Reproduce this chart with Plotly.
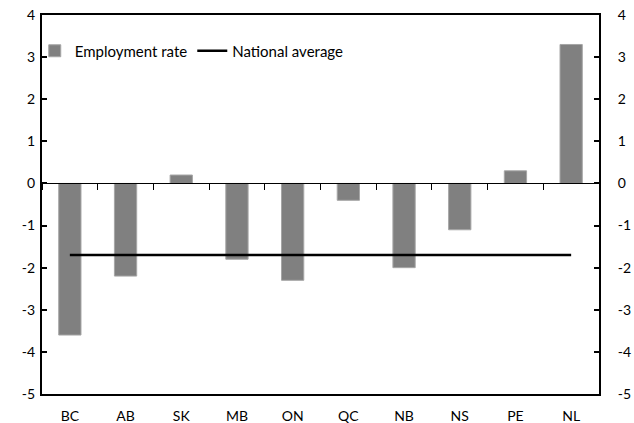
import plotly.graph_objects as go

provinces = ["BC", "AB", "SK", "MB", "ON", "QC", "NB", "NS", "PE", "NL"]
employment_rate = [-3.6, -2.2, 0.2, -1.8, -2.3, -0.4, -2.0, -1.1, 0.3, 3.3]
national_average = [-1.7] * len(provinces)
y_ticks = [4, 3, 2, 1, 0, -1, -2, -3, -4, -5]
y_tick_text = [str(v) for v in y_ticks]  # plain hyphen minus signs

FONT = "Lato, 'Open Sans', sans-serif"
Y_MIN, Y_MAX = -5, 4

fig = go.Figure()

fig.add_trace(go.Bar(
    x=provinces, y=employment_rate, name="Employment rate",
    marker=dict(color="#808080", line=dict(color="#a6a6a6", width=1)),
    width=0.4,
))
fig.add_trace(go.Scatter(
    x=provinces, y=national_average, name="National average",
    mode="lines", line=dict(color="black", width=2.5),
))
# invisible trace to drive the right-hand axis
fig.add_trace(go.Scatter(
    x=provinces, y=employment_rate, yaxis="y2", mode="none",
    showlegend=False, hoverinfo="skip",
))
# invisible trace to drive the zero-line category axis
fig.add_trace(go.Scatter(
    x=provinces, y=employment_rate, xaxis="x2", mode="none",
    showlegend=False, hoverinfo="skip",
))

y_common = dict(
    range=[Y_MIN, Y_MAX], tickvals=y_ticks, ticktext=y_tick_text,
    ticks="inside", ticklen=5, tickwidth=2, tickcolor="black",
    showline=True, linecolor="black", linewidth=2, showgrid=False,
    zeroline=False, automargin=False,
)

fig.update_layout(
    width=634, height=423,
    margin=dict(l=42, r=35, t=15, b=29),
    paper_bgcolor="white", plot_bgcolor="white",
    font=dict(family=FONT, size=14, color="black"),
    showlegend=True,
    legend=dict(
        orientation="h", x=-0.013, y=0.905, xanchor="left", yanchor="middle",
        bgcolor="rgba(0,0,0,0)", font=dict(size=15), itemwidth=30,
        tracegroupgap=0,
    ),
    bargap=0.6,
    xaxis=dict(
        type="category", categoryorder="array", categoryarray=provinces,
        showline=True, linecolor="black", linewidth=2, mirror=True,
        ticks="", showgrid=False, zeroline=False, ticklabelstandoff=8,
        automargin=False,
    ),
    xaxis2=dict(
        type="category", categoryorder="array", categoryarray=provinces,
        overlaying="x", anchor="free", position=(0 - Y_MIN) / (Y_MAX - Y_MIN),
        showline=True, linecolor="black", linewidth=1,
        ticks="outside", ticklen=6, tickcolor="black", tickwidth=1,
        tickson="boundaries", showticklabels=False, showgrid=False,
        zeroline=False, matches="x", automargin=False,
    ),
    yaxis=dict(**y_common, ticklabelstandoff=2),
    yaxis2=dict(**y_common, overlaying="y", side="right",
                ticklabelstandoff=14),
)

fig.write_html("out.html")
